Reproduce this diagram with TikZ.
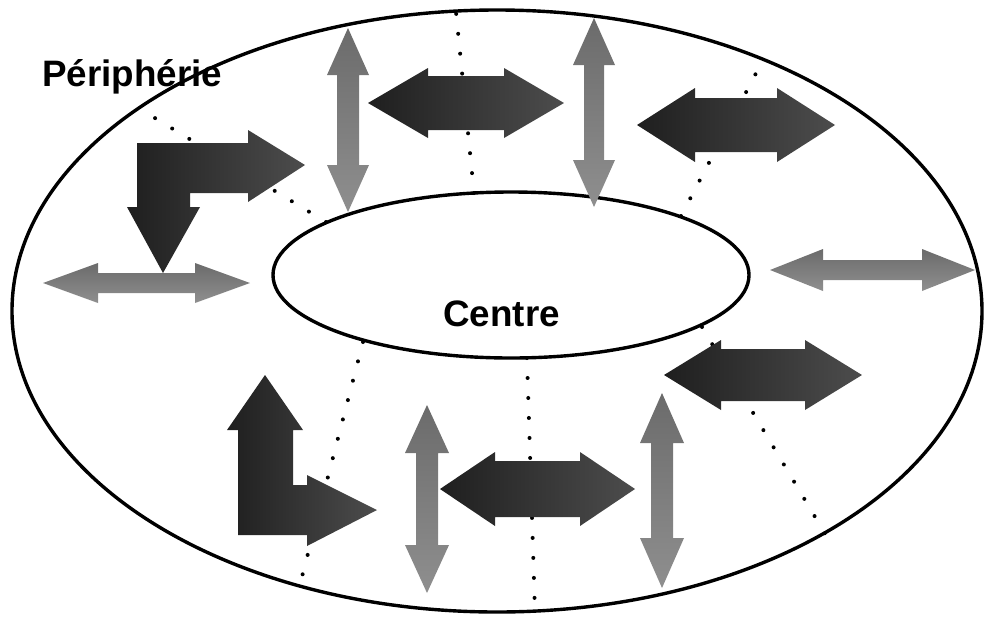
\documentclass[tikz,border=0pt]{standalone}
\usepackage{fontspec}
\setmainfont{Liberation Sans}
% horizontal double arrow: style, y, x left tip, x right tip, head half, shaft half, head length
\newcommand{\hdarrow}[7]{%
\shade[#1] (#3,#2) -- (#3+#7,#2-#5) -- (#3+#7,#2-#6) -- (#4-#7,#2-#6) -- (#4-#7,#2-#5) -- (#4,#2)
  -- (#4-#7,#2+#5) -- (#4-#7,#2+#6) -- (#3+#7,#2+#6) -- (#3+#7,#2+#5) -- cycle;}
% vertical double arrow: style, x, y top tip, y bottom tip, head half, shaft half, head length
\newcommand{\vdarrow}[7]{%
\shade[#1] (#2,#3) -- (#2+#5,#3+#7) -- (#2+#6,#3+#7) -- (#2+#6,#4-#7) -- (#2+#5,#4-#7) -- (#2,#4)
  -- (#2-#5,#4-#7) -- (#2-#6,#4-#7) -- (#2-#6,#3+#7) -- (#2-#5,#3+#7) -- cycle;}
\begin{document}
\begin{tikzpicture}[x=0.5pt,y=-0.5pt,
ring/.style={
% the two zones:
draw=black,
line width=1.7pt
},
spoke/.style={
line width=2pt,line cap=round,
dash pattern=on 0pt off 10pt
},
darkarrow/.style={left color=black!88,right color=black!70},
lightarrow/.style={top color=black!58,bottom color=black!44},
zonetext/.style={font=\fontsize{18.4}{22}\selectfont\bfseries,inner sep=0pt,anchor=base west}
]
\useasboundingbox (0,0) rectangle (984,616);
\draw[ring] (497,311) ellipse [x radius=485, y radius=301];
\draw[ring] (511,275) ellipse [x radius=238, y radius=83];
% spokes from the centre to the border
\coordinate (in1) at (474,193); \coordinate (out1) at (456,12);
\coordinate (in2) at (681,216); \coordinate (out2) at (764,58);
\coordinate (in3) at (326,222); \coordinate (out3) at (145,112);
\coordinate (in4) at (363,342); \coordinate (out4) at (298,592);
\coordinate (in5) at (527,358); \coordinate (out5) at (535,613);
\coordinate (in6) at (702,327); \coordinate (out6) at (827,537);
\foreach \i in {1,...,6}
  \draw[spoke] (in\i) -- (out\i);
% light arrows
\vdarrow{lightarrow}{348}{28}{212}{21}{11}{47}
\vdarrow{lightarrow}{594}{18}{207}{21}{10}{47}
\vdarrow{lightarrow}{427}{405}{593}{22}{11}{48}
\vdarrow{lightarrow}{662}{393}{588}{22}{11}{50}
\hdarrow{lightarrow}{270}{770}{975}{21}{10}{53}
\hdarrow{lightarrow}{283}{43}{250}{20}{10}{55}
% dark arrows
\hdarrow{darkarrow}{103}{368}{564}{35}{27}{60}
\hdarrow{darkarrow}{125}{637}{835}{37}{27}{58}
\hdarrow{darkarrow}{489}{440}{635}{37}{28}{55}
\hdarrow{darkarrow}{375}{664}{862}{35}{26}{57}
\shade[darkarrow] (137,143) -- (248,143) -- (248,130) -- (305,165) -- (248,202) -- (248,193)
  -- (190,193) -- (190,207) -- (200,207) -- (163,273) -- (127,207) -- (137,207) -- cycle;
\shade[darkarrow] (238,535) -- (238,430) -- (227,430) -- (265,375) -- (303,430) -- (293,430)
  -- (293,485) -- (307,485) -- (307,475) -- (377,510) -- (307,546) -- (307,535) -- cycle;
\node[zonetext] (peri) at (42,86) {Périphérie};
\node[zonetext] (centre) at (443,326) {Centre};
\end{tikzpicture}
\end{document}
